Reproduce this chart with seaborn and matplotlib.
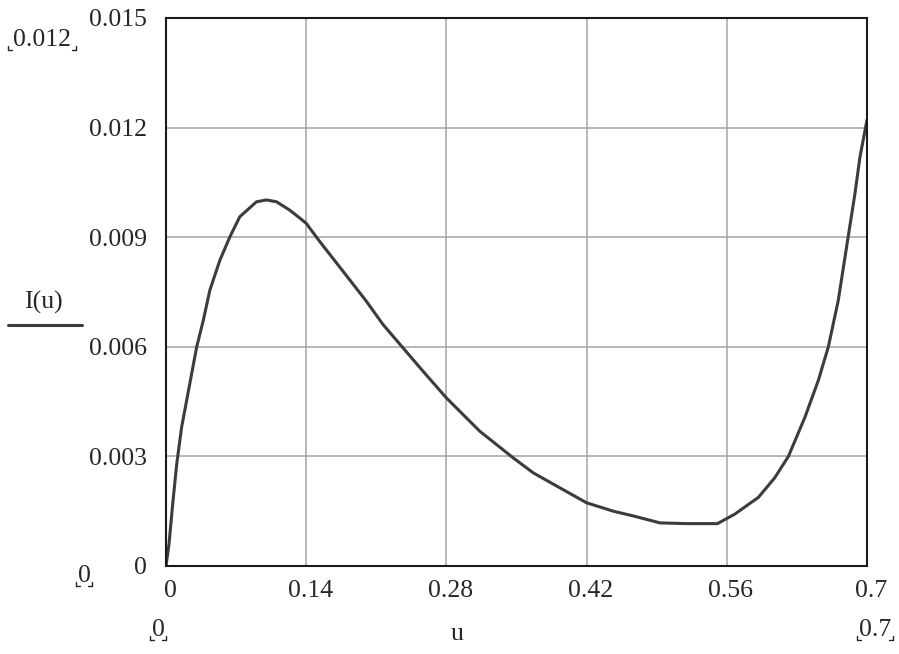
import matplotlib
matplotlib.use("Agg")
import matplotlib.pyplot as plt
import matplotlib.transforms as mtransforms
import seaborn as sns
import pandas as pd
from matplotlib.lines import Line2D

# ---- data ----
u_vals = [0.0, 0.003, 0.0067, 0.0107, 0.0156, 0.0206, 0.0306, 0.0372, 0.0438,
          0.0538, 0.0638, 0.0737, 0.0904, 0.1003, 0.1103, 0.1236, 0.1333,
          0.14, 0.1533, 0.1767, 0.2, 0.2167, 0.2367, 0.2567, 0.28, 0.3133,
          0.3467, 0.3667, 0.3933, 0.42, 0.4467, 0.4667, 0.4933, 0.52, 0.5507,
          0.568, 0.5916, 0.608, 0.6215, 0.638, 0.6514, 0.6614, 0.6713, 0.6813,
          0.688, 0.693, 0.7]
I_vals = [0.0, 0.0006, 0.0017, 0.00279, 0.0038, 0.00453, 0.00599, 0.00672,
          0.00755, 0.00837, 0.00901, 0.00956, 0.00997, 0.01002, 0.00997,
          0.00974, 0.00953, 0.00938, 0.00889, 0.00807, 0.00725, 0.00661,
          0.00597, 0.00533, 0.0046, 0.00369, 0.00296, 0.00255, 0.00214,
          0.00173, 0.0015, 0.00137, 0.00118, 0.00116, 0.00116, 0.00142,
          0.00188, 0.00242, 0.003, 0.00407, 0.00508, 0.006, 0.00727, 0.00903,
          0.0102, 0.0112, 0.01221]
x_ticks = [0, 0.14, 0.28, 0.42, 0.56, 0.7]
x_tick_labels = ["0", "0.14", "0.28", "0.42", "0.56", "0.7"]
y_ticks = [0, 0.003, 0.006, 0.009, 0.012, 0.015]
y_tick_labels = ["0", "0.003", "0.006", "0.009", "0.012", "0.015"]
x_label = "u"
legend_label = "I(u)"

df = pd.DataFrame({"u": u_vals, "I": I_vals})

sns.set_theme(style="white")
plt.rcParams["font.family"] = ["Liberation Serif", "DejaVu Serif"]

FS = 18.5
TXT = "#262626"
W, H = 899, 654
fig = plt.figure(figsize=(W / 100, H / 100), dpi=100)
ax = fig.add_axes([166 / W, 1 - 566 / H, (867 - 166) / W, (566 - 18) / H])

sns.lineplot(data=df, x="u", y="I", ax=ax, color="#3c3c3c", linewidth=2.2,
             legend=False)

ax.set_xlim(0, 0.7)
ax.set_ylim(0, 0.015)
ax.set_xticks(x_ticks)
ax.set_xticklabels(x_tick_labels)
ax.set_yticks(y_ticks)
ax.set_yticklabels(y_tick_labels)
ax.grid(True, color="#a4a4a4", linewidth=1.1)
ax.set_axisbelow(True)
for s in ax.spines.values():
    s.set_color("#1a1a1a")
    s.set_linewidth(1.5)
ax.tick_params(axis="both", length=0, labelsize=FS, colors=TXT)
ax.tick_params(axis="y", pad=14)
ax.tick_params(axis="x", pad=10)
ax.set_xlabel("")
ax.set_ylabel("")

# Mathcad places x tick labels slightly right of the grid lines
shift = mtransforms.ScaledTranslation(4 / 100, 0, fig.dpi_scale_trans)
for lab in ax.get_xticklabels():
    lab.set_transform(lab.get_transform() + shift)


def fx(px):
    return px / W


def fy(py):
    return 1 - py / H


def bracket_text(txt, cx, cy, x0, x1):
    fig.text(fx(cx), fy(cy), txt, ha="center", va="center", fontsize=FS,
             color=TXT)
    yb = cy + 10
    for xa, d in ((x0, 1), (x1, -1)):
        fig.add_artist(Line2D([fx(xa), fx(xa)], [fy(yb - 4), fy(yb)],
                              color=TXT, lw=1.0))
        fig.add_artist(Line2D([fx(xa), fx(xa + 4 * d)], [fy(yb), fy(yb)],
                              color=TXT, lw=1.0))


# axis limit fields (Mathcad style)
bracket_text("0.012", 42, 40, 8, 76)
bracket_text("0", 84, 576, 76, 92)
bracket_text("0", 158, 630, 150, 166)
bracket_text("0.7", 875, 630, 857, 893)

# x label
fig.text(fx(457), fy(634), x_label, ha="center", va="center", fontsize=FS,
         color=TXT)

# legend label with line
fig.text(fx(43), fy(302), legend_label, ha="center", va="center",
         fontsize=FS, color=TXT)
fig.add_artist(Line2D([fx(8), fx(82)], [fy(325), fy(325)], color="#3c3c3c",
                      lw=2.2))

fig.savefig("out.png", dpi=100)
